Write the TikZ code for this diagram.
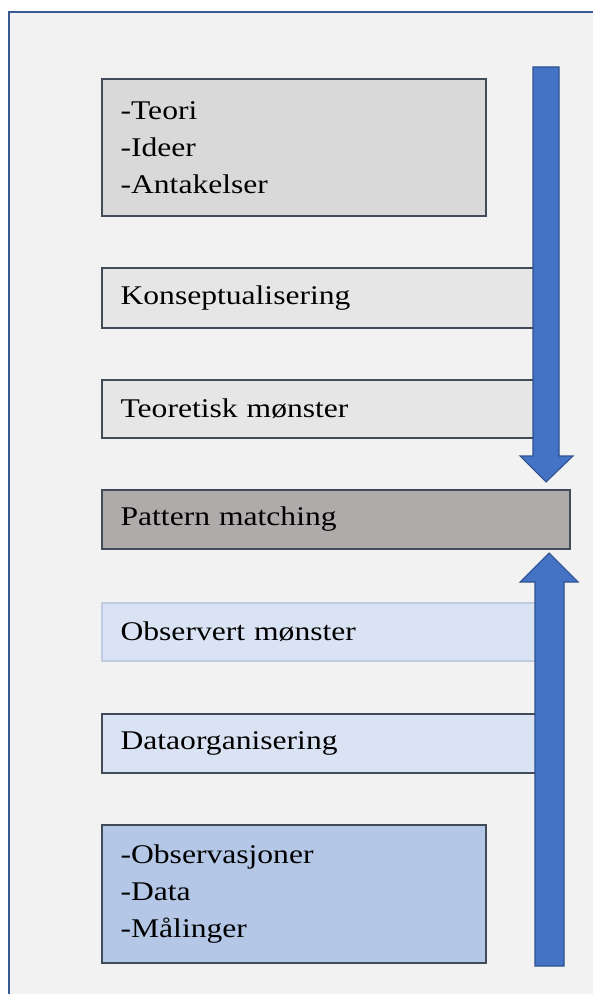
\documentclass[tikz,border=0pt]{standalone}
\usepackage{fontspec}
\setmainfont{Liberation Serif}[FakeStretch=1.17]
\usepackage{tikz}
\usetikzlibrary{positioning}
\definecolor{frame_blue}{HTML}{3A5A96}
\definecolor{back_gray}{HTML}{F2F2F2}
\definecolor{edge_gray}{HTML}{414B5A}
\definecolor{theory_gray}{HTML}{D9D9D9}
\definecolor{step_gray}{HTML}{E7E6E6}
\definecolor{match_gray}{HTML}{AFABAB}
\definecolor{step_blue}{HTML}{DAE3F3}
\definecolor{edge_blue}{HTML}{BFCCE2}
\definecolor{data_blue}{HTML}{B4C7E7}
\definecolor{arrow_blue}{HTML}{4472C4}
\definecolor{arrow_edge}{HTML}{2F528F}
\tikzset{
  boxnode/.style={draw=edge_gray, line width=1.4pt, anchor=north west,
    align=left, inner xsep=14pt, inner ysep=0pt,
    font=\fontsize{20.25pt}{27.75pt}\selectfont},
  bigarrow/.style={fill=arrow_blue, draw=arrow_edge, line width=0.8pt}
}

\begin{document}
\begin{tikzpicture}[x=0.75pt, y=-0.75pt]
        \useasboundingbox (0,0) rectangle (592,994);
        \filldraw[fill=back_gray, draw=frame_blue, line width=1.6pt] (9,12) rectangle (620,1020);
        % theory side
        \node[boxnode, fill=theory_gray, text width=260pt, minimum height=102.75pt] (teori) at (101,78) {-Teori\\-Ideer\\-Antakelser};
        \node[boxnode, fill=step_gray, text width=302pt, minimum height=45pt] (konsept) at (101,267) {Konseptualisering};
        \node[boxnode, fill=step_gray, text width=302pt, minimum height=43.5pt] (teomonster) at (101,379) {Teoretisk mønster};
        % meeting point
        \node[boxnode, fill=match_gray, text width=323pt, minimum height=44.25pt] (pattern) at (101,489) {Pattern matching};
        % data side
        \node[boxnode, fill=step_blue, draw=edge_blue, text width=302pt, minimum height=43.5pt] (obsmonster) at (101,602) {Observert mønster};
        \node[boxnode, fill=step_blue, text width=302pt, minimum height=44.25pt] (dataorg) at (101,713) {Dataorganisering};
        \node[boxnode, fill=data_blue, text width=260pt, minimum height=103.5pt] (obs) at (101,824) {-Observasjoner\\-Data\\-Målinger};
        % arrows
        \coordinate (downtip) at (546,482);
        \coordinate (uptip) at (549,553);
        \filldraw[bigarrow] (533,67) -- (559,67) -- (559,456) -- (573,456) -- (downtip) -- (520,456) -- (533,456) -- cycle;
        \filldraw[bigarrow] (535,966) -- (564,966) -- (564,582) -- (578,582) -- (uptip) -- (520,582) -- (535,582) -- cycle;
    \end{tikzpicture}
\end{document}
